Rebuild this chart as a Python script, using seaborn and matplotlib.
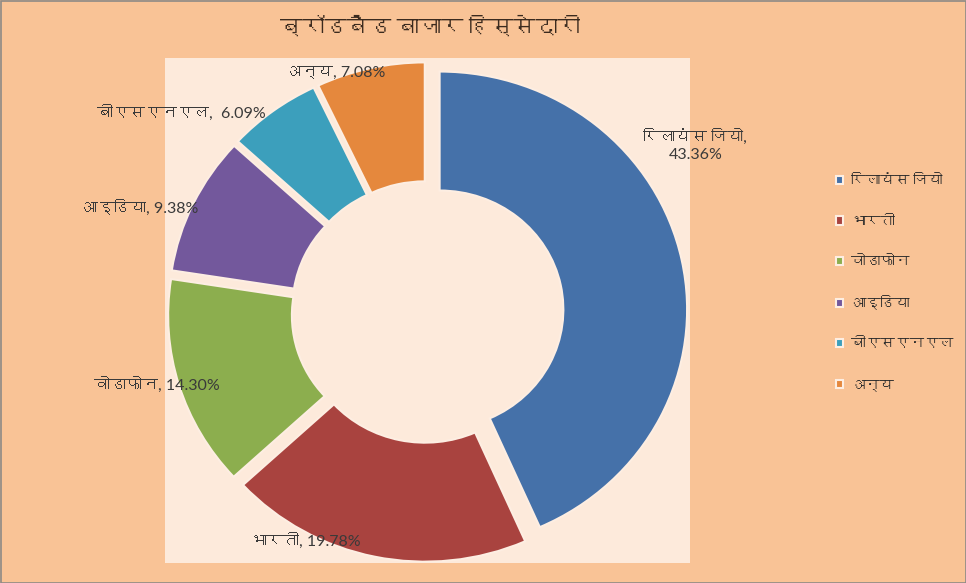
import numpy as np
import matplotlib
matplotlib.use("Agg")
import matplotlib.pyplot as plt
from matplotlib import font_manager
from matplotlib.patches import Rectangle
import seaborn as sns

# data
companies = ["रिलायंस जियो", "भारती", "वोडाफोन", "आइडिया", "बीएसएनएल", "अन्य"]
shares = [43.36, 19.78, 14.30, 9.38, 6.09, 7.08]
title = "ब्रॉडबैंड बाजार हिस्सेदारी"

colors = ["#4571A9", "#A9433F", "#8CAE4E", "#73589C", "#3C9FBC", "#E5883D"]


def devanagari_family():
    # look for any installed font that has devanagari glyphs
    try:
        from fontTools.ttLib import TTFont
    except Exception:
        return None
    for f in font_manager.fontManager.ttflist:
        try:
            cmap = TTFont(f.fname, fontNumber=0, lazy=True).getBestCmap()
        except Exception:
            continue
        if cmap and 0x0915 in cmap:
            return f.name
    return None


sns.set_theme(style="white")
deva = devanagari_family()
fams = ["Lato"] + ([deva] if deva else []) + ["DejaVu Sans"]
plt.rcParams["font.family"] = fams

W, H = 966, 583
fig = plt.figure(figsize=(W / 100, H / 100), dpi=100, facecolor="#F9C396")

# plot area (light)
fig.patches.append(Rectangle((165 / W, 1 - 563 / H), (690 - 165) / W, (563 - 58) / H,
                             transform=fig.transFigure, facecolor="#FDEADB",
                             edgecolor="none", zorder=-2))
# outer border
fig.patches.append(Rectangle((0.5 / W, 0.5 / H), 1 - 1 / W, 1 - 1 / H,
                             transform=fig.transFigure, facecolor="none",
                             edgecolor="#8E8A86", linewidth=1.2, zorder=5))

# pie axes, slightly stretched horizontally like the original
cx, cy = 427.5, 312
rx, ry = 247.5, 238
hw, hh = 270, 262
ax = fig.add_axes([(cx - hw) / W, 1 - (cy + hh) / H, 2 * hw / W, 2 * hh / H])
ax.patch.set_alpha(0)

wedges, _ = ax.pie(shares, colors=colors, startangle=90, counterclock=False,
                   explode=[0.05] * len(shares),
                   wedgeprops=dict(width=0.5, edgecolor="#FDEEE2", linewidth=1.5))
ax.set_aspect("auto")
ax.set_xlim(-hw / rx, hw / rx)
ax.set_ylim(-hh / ry, hh / ry)
ax.axis("off")

# data labels (angle shift from wedge middle, radial distance)
shift = [21.0, -15.3, -1.2, 5.1, 13.5, 7.6]
dist = [1.29, 1.08, 1.135, 1.24, 1.30, 1.07]
for i, w in enumerate(wedges):
    mid = np.deg2rad((w.theta1 + w.theta2) / 2 + shift[i])
    x, y = dist[i] * np.cos(mid), dist[i] * np.sin(mid)
    if i == 0:
        txt = f"{companies[i]},\n{shares[i]:.2f}%"
    elif i == 4:
        txt = f"{companies[i]},  {shares[i]:.2f}%"
    else:
        txt = f"{companies[i]}, {shares[i]:.2f}%"
    ax.text(x, y, txt, ha="center", va="center", fontsize=11.5,
            color="#3A3A3A", linespacing=1.3)

fig.text(430 / W, 1 - 27 / H, title, ha="center", va="center",
         fontsize=16, fontweight="bold", color="#3B2A1E")

leg = fig.legend(wedges, companies, loc="upper left",
                 bbox_to_anchor=(826 / W, 1 - 164 / H), frameon=False,
                 fontsize=10.5, handlelength=0.5, handleheight=0.5,
                 handletextpad=0.5, labelspacing=1.82, borderpad=0.2)
for t in leg.get_texts():
    t.set_color("#2A2A2A")

fig.savefig("out.png", dpi=100, facecolor=fig.get_facecolor())
